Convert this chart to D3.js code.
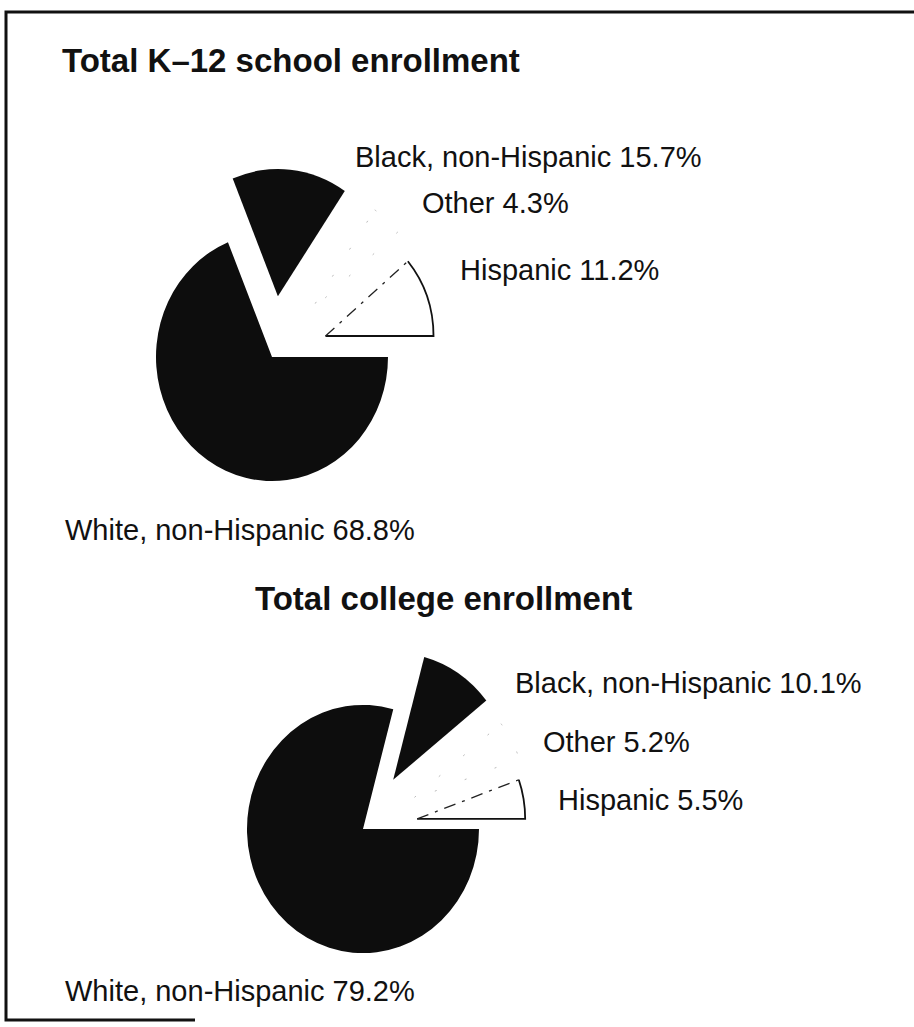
<!DOCTYPE html>
<html>
<head>
<meta charset="utf-8">
<script src="https://cdn.jsdelivr.net/npm/d3@7"></script>
<style>
  html, body { margin: 0; padding: 0; background: #fff; }
  svg { display: block; }
  text { font-family: "Liberation Sans", Arial, Helvetica, sans-serif; fill: #111; }
</style>
</head>
<body>
<div id="chart"></div>
<script>
var categories = ["White, non-Hispanic", "Black, non-Hispanic", "Other", "Hispanic"];
var titles = ["Total K\u201312 school enrollment", "Total college enrollment"];
var k12Values = [68.8, 15.7, 4.3, 11.2];
var collegeValues = [79.2, 10.1, 5.2, 5.5];

var width = 914,
  height = 1027;

// layout of each panel (positions only, values come from the arrays above)
var panels = [
  {
    title: titles[0], values: k12Values,
    titlePos: [62, 72], center: [272, 357], explode: 57,
    labelPos: [[65, 540], [355, 167], [422, 213], [460, 280]]
  },
  {
    title: titles[1], values: collegeValues,
    titlePos: [255, 610], center: [363, 829], explode: 55,
    labelPos: [[65, 1001], [515, 693], [543, 752], [558, 810]]
  }
];

// outer radius per slice; the printed pies are a little taller than wide
var radii = { "White, non-Hispanic": 116, "Black, non-Hispanic": 119, "Other": 115, "Hispanic": 108 };
var stretchY = 1.07;

var svg = d3.select("#chart")
  .append("svg")
  .attr("width", width)
  .attr("height", height);

// frame: top and left edges, short piece of the bottom one
svg.append("path")
  .attr("d", "M914,12 L6,12 L6,1020 L195,1020")
  .attr("fill", "none")
  .attr("stroke", "#111")
  .attr("stroke-width", 3);

var pie = d3.pie()
  .sort(null)
  .value(function (d) { return d.value; })
  .startAngle(Math.PI / 2)
  .endAngle(Math.PI / 2 + 2 * Math.PI);

var arc = d3.arc()
  .innerRadius(0)
  .outerRadius(function (d) { return radii[d.data.name]; });

function pt(angle, r) {
  return [Math.sin(angle) * r, -Math.cos(angle) * r];
}

panels.forEach(function (p) {
  var g = svg.append("g");

  g.append("text")
    .attr("x", p.titlePos[0])
    .attr("y", p.titlePos[1])
    .attr("font-size", 33)
    .attr("font-weight", "bold")
    .text(p.title);

  var arcs = pie(p.values.map(function (v, i) { return { name: categories[i], value: v }; }));

  var pieG = g.append("g")
    .attr("transform", "translate(" + p.center[0] + "," + p.center[1] + ") scale(1," + stretchY + ")");

  var slices = pieG.selectAll("g.slice")
    .data(arcs)
    .enter()
    .append("g")
    .attr("class", "slice")
    .attr("transform", function (d, i) {
      if (i === 0) return null;
      var off = pt((d.startAngle + d.endAngle) / 2, p.explode);
      return "translate(" + off[0] + "," + off[1] + ")";
    });

  slices.append("path")
    .attr("d", arc)
    .attr("fill", function (d) { return d.data.name.indexOf("non-Hispanic") > 0 ? "#0d0d0d" : "#fff"; })
    .attr("stroke", function (d) { return d.data.name === "Other" ? "#bbb" : "none"; })
    .attr("stroke-width", 1)
    .attr("vector-effect", "non-scaling-stroke")
    .attr("stroke-dasharray", "2,30");

  // Hispanic: solid arc and lower edge, broken upper edge
  var hisp = slices.filter(function (d) { return d.data.name === "Hispanic"; });
  hisp.append("path")
    .attr("d", function (d) {
      var r = radii[d.data.name],
        a = pt(d.startAngle, r),
        b = pt(d.endAngle, r);
      return "M" + a + "A" + r + "," + r + " 0 0 1 " + b + "L0,0";
    })
    .attr("fill", "none")
    .attr("stroke", "#111")
    .attr("stroke-width", 1.8)
    .attr("vector-effect", "non-scaling-stroke");
  hisp.append("path")
    .attr("d", function (d) {
      return "M0,0L" + pt(d.startAngle, radii[d.data.name]);
    })
    .attr("fill", "none")
    .attr("stroke", "#222")
    .attr("stroke-width", 1.3)
    .attr("vector-effect", "non-scaling-stroke")
    .attr("stroke-dasharray", "12,7,3,7");

  g.selectAll("text.label")
    .data(arcs)
    .enter()
    .append("text")
    .attr("class", "label")
    .attr("x", function (d, i) { return p.labelPos[i][0]; })
    .attr("y", function (d, i) { return p.labelPos[i][1]; })
    .attr("font-size", 29)
    .text(function (d) { return d.data.name + " " + d.data.value.toFixed(1) + "%"; });
});
</script>
</body>
</html>
